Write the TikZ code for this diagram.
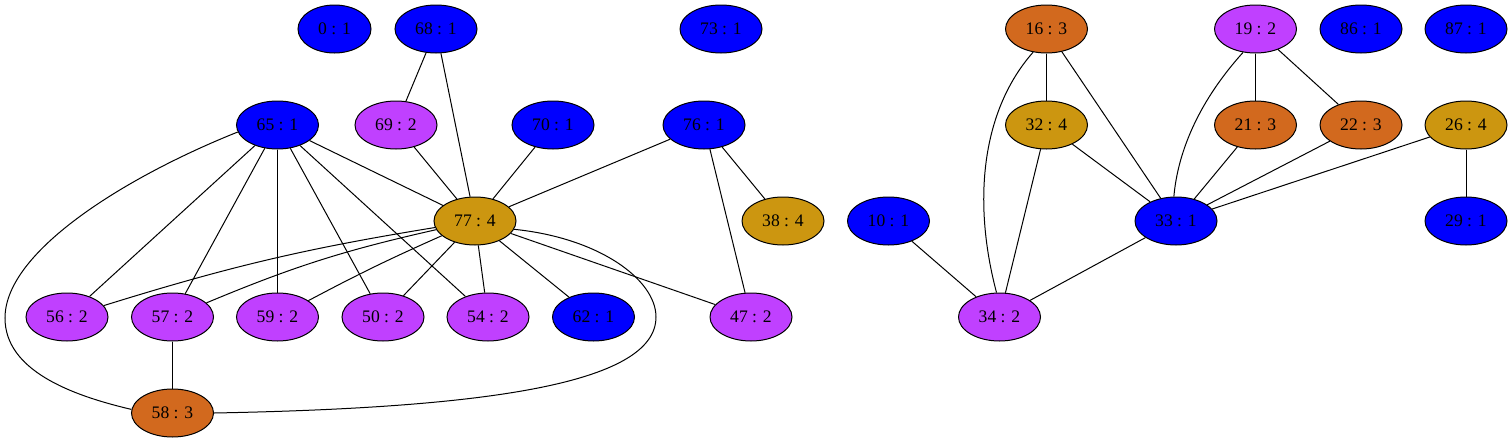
\documentclass[tikz,border=0pt]{standalone}
\usepackage{fontspec}
\setmainfont{Liberation Serif}
\usetikzlibrary{shapes.geometric}
\definecolor{cblue}{HTML}{0000FF}
\definecolor{cpurple}{HTML}{C040FF}
\definecolor{corange}{HTML}{D2691E}
\definecolor{cgold}{HTML}{CC9610}
\tikzset{
  gnode/.style={ellipse, draw=black, line width=0.75pt, minimum width=61.5pt, minimum height=36pt, inner sep=0pt, font=\fontsize{13.2}{15}\selectfont},
  nb/.style={gnode, fill=cblue},
  np/.style={gnode, fill=cpurple},
  no/.style={gnode, fill=corange},
  ng/.style={gnode, fill=cgold},
  edge/.style={draw=black, line width=0.75pt}
}
\begin{document}
\begin{tikzpicture}[x=0.75pt,y=-0.75pt]
\useasboundingbox (0,0) rectangle (1510,443);
% row 1
\node[nb, minimum width=54.75pt] (n0) at (334.5,29) {0 : 1};
\node[nb] (n68) at (436,29) {68 : 1};
\node[nb] (n73) at (721,29) {73 : 1};
\node[no] (n16) at (1046.5,29) {16 : 3};
\node[np] (n19) at (1255.5,29) {19 : 2};
\node[nb] (n86) at (1361,29) {86 : 1};
\node[nb] (n87) at (1466,29) {87 : 1};
% row 2
\node[nb] (n65) at (277.5,125) {65 : 1};
\node[np] (n69) at (396,125) {69 : 2};
\node[nb] (n70) at (553,125) {70 : 1};
\node[nb] (n76) at (704,125) {76 : 1};
\node[ng] (n32) at (1046.5,125) {32 : 4};
\node[no] (n21) at (1255.5,125) {21 : 3};
\node[no] (n22) at (1361,125) {22 : 3};
\node[ng] (n26) at (1466,125) {26 : 4};
% row 3
\node[ng] (n77) at (475,221) {77 : 4};
\node[ng] (n38) at (783,221) {38 : 4};
\node[nb] (n10) at (888.5,221) {10 : 1};
\node[nb] (n33) at (1176,221) {33 : 1};
\node[nb] (n29) at (1466,221) {29 : 1};
% row 4
\node[np] (n56) at (67,317) {56 : 2};
\node[np] (n57) at (172.5,317) {57 : 2};
\node[np] (n59) at (277.5,317) {59 : 2};
\node[np] (n50) at (383,317) {50 : 2};
\node[np] (n54) at (488,317) {54 : 2};
\node[nb] (n62) at (593.5,317) {62 : 1};
\node[np] (n47) at (751,317) {47 : 2};
\node[np] (n34) at (999.5,317) {34 : 2};
% row 5
\node[no] (n58) at (172.5,413) {58 : 3};
% edges
\draw[edge] (n68) -- (n69);
\draw[edge] (n68) -- (n77);
\draw[edge] (n69) -- (n77);
\draw[edge] (n70) -- (n77);
\draw[edge] (n76) -- (n77);
\draw[edge] (n76) -- (n38);
\draw[edge] (n76) -- (n47);
\draw[edge] (n65) -- (n77);
\draw[edge] (n65) -- (n56);
\draw[edge] (n65) -- (n57);
\draw[edge] (n65) -- (n59);
\draw[edge] (n65) -- (n50);
\draw[edge] (n65) -- (n54);
\draw[edge] (n77) to[bend right=4] (n56);
\draw[edge] (n77) to[bend right=5] (n57);
\draw[edge] (n77) to[bend right=2] (n59);
\draw[edge] (n77) -- (n50);
\draw[edge] (n77) -- (n54);
\draw[edge] (n77) -- (n62);
\draw[edge] (n77) -- (n47);
\draw[edge] (n57) -- (n58);
\coordinate (lc) at (5,318);
\draw[edge] (n65.190) .. controls (130,175) and (5,250) .. (lc) .. controls (5,370) and (70,395) .. (n58.175);
\coordinate (rc) at (656,317);
\draw[edge] (n77.-12) .. controls (600,238) and (656,280) .. (rc) .. controls (656,385) and (480,408) .. (n58.east);
\draw[edge] (n16) -- (n32);
\draw[edge] (n16) -- (n33);
\draw[edge] (n16.-120) .. controls (982,110) and (972,200) .. (n34.97);
\draw[edge] (n19) -- (n21);
\draw[edge] (n19) -- (n22);
\draw[edge] (n19.-118) .. controls (1200,100) and (1178,150) .. (n33.95);
\draw[edge] (n21) -- (n33);
\draw[edge] (n22) -- (n33);
\draw[edge] (n32) -- (n33);
\draw[edge] (n32) -- (n34);
\draw[edge] (n26) -- (n33);
\draw[edge] (n26) -- (n29);
\draw[edge] (n10) -- (n34);
\draw[edge] (n33) -- (n34);
\end{tikzpicture}
\end{document}
